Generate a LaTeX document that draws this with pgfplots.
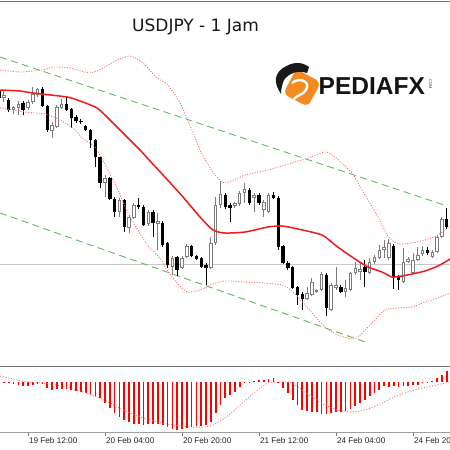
\documentclass[border=0pt]{standalone}
\usepackage{pgfplots}
\pgfplotsset{compat=1.18}
\usepackage{pgfplotstable}
\usepackage{fontspec}
\setmainfont{Liberation Sans}
\newfontfamily\titlefont{DejaVu Sans}
\definecolor{bandred}{RGB}{255,105,105}
\definecolor{midred}{RGB}{245,25,25}
\definecolor{chgreen}{RGB}{95,185,95}
\definecolor{bullgray}{RGB}{125,125,125}
\definecolor{logoorange}{RGB}{245,138,32}
\definecolor{sepgray}{RGB}{115,115,115}

% bearish candles (image-pixel price scale, y grows downward)
\pgfplotstableread{
k hi bt bb lo
-6 88 90 98 100
-4 98 100 110 112
-1 101 103 110 115
3 87 89 106 107
4 105 106 130 132
8 96 104 110 111
9 108 109 118 128
10 115 117 121 123
11 119 121 122 124
12 125 126 130 131
13 129 130 140 148
14 139 140 157 167
15 156 157 183 188
17 177 178 199 200
18 197 199 212 217
20 199 200 227 232
23 198 205 207 209
24 205 207 225 226
26 210 212 223 237
28 221 223 245 247
29 242 243 265 268
31 256 257 270 276
34 245 246 256 257
35 255 256 259 260
36 257 258 267 268
37 263 265 268 285
41 193 195 207 209
42 203 205 208 222
46 188 190 203 205
48 193 195 203 205
51 192 195 198 199
52 196 198 247 250
53 245 246 263 264
54 261 263 268 270
55 266 267 288 289
56 286 287 295 305
57 292 294 299 310
62 273 275 308 316
65 285 287 292 293
70 260 267 272 287
76 244 246 278 289
77 275 277 280 290
83 247 250 253 255
87 208 219 227 229
}\tabBear

% bullish candles
\pgfplotstableread{
k hi bt bb lo
-5 91 95 98 102
-3 106 107 110 114
-2 101 104 108 115
0 100 102 108 110
1 87 94 102 104
2 88 89 95 97
5 122 125 131 138
6 105 107 127 128
7 99 104 108 109
16 175 178 183 197
19 198 200 212 217
21 215 217 228 233
22 203 205 218 219
25 210 212 224 226
27 213 221 224 250
30 256 258 267 275
32 256 258 268 269
33 244 246 257 258
38 237 243 268 269
39 197 205 243 245
40 181 194 205 208
43 202 203 206 208
44 191 193 204 206
45 183 189 193 203
47 193 195 198 212
49 200 202 210 217
50 193 195 212 213
58 287 293 299 300
59 278 282 295 296
60 289 290 292 293
61 272 274 290 291
63 283 285 310 311
64 267 285 288 290
66 280 288 292 297
67 272 273 290 291
68 262 268 273 275
69 262 269 272 280
71 258 262 273 274
72 255 257 262 264
73 245 250 258 259
74 240 247 250 258
75 239 243 258 260
78 248 262 282 283
79 257 259 262 263
80 253 260 273 274
81 247 255 260 261
82 246 250 254 256
84 250 252 257 258
85 235 237 252 253
86 217 219 237 238
}\tabBull

\pgfplotstableread{
px py
0 70
20 72
43 70
53 67
70 68
90 73
103 68
117 60
130 56
143 63
157 78
167 84
180 103
192 130
200 150
207 163
215 175
225 183
245 175
268 170
292 163
308 158
325 152
335 157
352 173
358 183
368 200
378 217
388 236
398 244
412 243
425 240
438 235
450 226
}\tabUpper

\pgfplotstableread{
px py
0 90
20 91
33 93
67 97
80 101
97 108
110 120
127 137
140 150
150 161
163 175
183 197
200 217
213 230
225 233
245 232
268 227
282 226
298 229
322 235
335 245
352 257
368 267
382 272
392 277
402 276
412 274
425 271
438 266
450 259
}\tabMid

\pgfplotstableread{
px py
0 108
25 112
45 114
60 120
75 130
83 139
95 147
108 170
118 190
128 213
142 237
150 248
160 258
167 270
177 283
187 292
200 290
213 284
225 281
245 282
265 283
285 286
298 297
312 313
325 327
338 335
352 339
358 337
372 323
385 310
398 308
412 307
425 302
438 298
450 293
}\tabLow

\pgfplotstableread{
k v
-5 -1
-4 -1
-3 -2
-2 -3
-1 -4
0 -4
1 -3
2 -2
3 -2
4 -6
5 -8
6 -7
7 -7
8 -7
9 -8
10 -9
11 -10
12 -11
13 -12
14 -14
15 -16
16 -21
17 -26
18 -31
19 -35
20 -38
21 -40
22 -42
23 -42
24 -43
25 -42
26 -42
27 -42
28 -43
29 -45
30 -47
31 -48
32 -47
33 -46
34 -45
35 -44
36 -44
37 -43
38 -40
39 -31
40 -23
41 -16
42 -13
43 -10
44 -5
45 -1
46 -0.5
47 1
48 2
49 2
50 3
51 4
52 -1
53 -6
54 -11
55 -18
56 -23
57 -28
58 -29
59 -30
60 -30
61 -32
62 -32
63 -31
64 -30
65 -30
66 -29
67 -27
68 -24
69 -21
70 -18
71 -14
72 -11
73 -8
74 -4
75 -5
76 -4
77 -5
78 -4
79 -4
80 -3
81 -3
82 -1
83 -0.5
84 1
85 4
86 7
87 11
}\tabMacd

\pgfplotstableread{
px v
0 6
13 3
27 0
43 -1
67 -5
83 -10
97 -15
110 -21
123 -28
140 -35
157 -40
173 -43
190 -45
203 -45
213 -43
225 -36
238 -25
255 -10
268 -1
280 0
292 -1
312 -15
325 -23
338 -28
352 -30
365 -28
378 -23
392 -16
405 -11
418 -7
432 -4
445 -1
450 0
}\tabSignal

\pgfplotsset{
  candle/.style 2 args={draw=none, mark=none, forget plot,
    error bars/.cd, y dir=plus, y explicit, error mark=none,
    error bar style={solid, draw=#1, line width=#2}},
}

\begin{document}
\begin{tikzpicture}
\useasboundingbox (0pt,0pt) rectangle (450pt,450pt);
\clip (0pt,0pt) rectangle (450pt,450pt);
\fill[white] (0pt,0pt) rectangle (450pt,450pt);

% ---------------- main price panel
\begin{axis}[
  at={(0pt,85pt)}, anchor=south west, scale only axis,
  width=450pt, height=363pt,
  xmin=0, xmax=450, ymin=2, ymax=365, y dir=reverse,
  hide axis, clip=true]
% horizontal price level
\addplot[black!22, line width=0.8pt] coordinates {(0,264) (450,264)};
% trend channel
\addplot[chgreen, line width=0.9pt, dash pattern=on 7pt off 4.5pt] coordinates {(0,57) (447,206)};
\addplot[chgreen, line width=0.9pt, dash pattern=on 7pt off 4.5pt] coordinates {(0,213) (368,343)};
% wicks
\addplot[candle={bullgray}{1pt}]
  table[x expr=28+4.8125*\thisrow{k}, y=hi, y error plus expr=\thisrow{lo}-\thisrow{hi}] \tabBull;
\addplot[candle={black}{1pt}]
  table[x expr=28+4.8125*\thisrow{k}, y=hi, y error plus expr=\thisrow{lo}-\thisrow{hi}] \tabBear;
% bodies
\addplot[candle={bullgray}{3.4pt}]
  table[x expr=28+4.8125*\thisrow{k}, y=bt, y error plus expr=\thisrow{bb}-\thisrow{bt}] \tabBull;
\addplot[candle={white}{1.4pt}]
  table[x expr=28+4.8125*\thisrow{k}, y expr=\thisrow{bt}+1, y error plus expr=\thisrow{bb}-\thisrow{bt}-2] \tabBull;
\addplot[candle={black}{3.4pt}]
  table[x expr=28+4.8125*\thisrow{k}, y=bt, y error plus expr=\thisrow{bb}-\thisrow{bt}] \tabBear;
% Bollinger bands
\addplot[bandred, line width=0.9pt, dash pattern=on 1pt off 1.6pt, smooth, tension=0.4] table[x=px, y=py] \tabUpper;
\addplot[bandred, line width=0.9pt, dash pattern=on 1pt off 1.6pt, smooth, tension=0.4] table[x=px, y=py] \tabLow;
\addplot[midred, line width=1.5pt, smooth, tension=0.4] table[x=px, y=py] \tabMid;
\end{axis}

% ---------------- oscillator panel
\begin{axis}[
  at={(0pt,18pt)}, anchor=south west, scale only axis,
  width=450pt, height=65pt,
  xmin=0, xmax=450, ymin=-50, ymax=15,
  hide axis, clip=true]
\addplot[ycomb, red, line width=1.7pt] table[x expr=28+4.8125*\thisrow{k}, y=v] \tabMacd;
\addplot[bandred, line width=0.9pt, dash pattern=on 1pt off 1.8pt, smooth, tension=0.4] table[x=px, y=v] \tabSignal;
\end{axis}

% frame lines
\draw[sepgray, line width=1pt] (0pt,448.5pt) -- (450pt,448.5pt);
\draw[sepgray, line width=1.8pt] (0pt,83.5pt) -- (450pt,83.5pt);
\draw[black!38, line width=0.8pt] (0pt,17.3pt) -- (450pt,17.3pt);
\foreach \t/\lab in {28/19 Feb 12:00, 105/20 Feb 04:00, 182/20 Feb 20:00, 259/21 Feb 12:00, 336/24 Feb 04:00, 413/24 Feb 20:00}{
  \draw[black!55, line width=0.8pt] (\t pt,17.3pt) -- (\t pt,14pt);
  \node[anchor=base west, inner sep=0pt, text=black!85, font=\fontsize{8.2}{9}\selectfont] at (\t pt+0.8pt,6pt) {\lab};
}

% title
\node[anchor=base west, inner sep=0pt, font=\titlefont\fontsize{17}{20}\selectfont, text=black!90] at (132pt,418pt) {USDJPY - 1 Jam};

% logo
\begin{scope}
\fill[logoorange, rounded corners=6pt, rotate around={-28:(302pt,362pt)}] (288pt,348pt) rectangle (316pt,376pt);
\draw[white, line width=2.4pt] (292pt,367pt) .. controls (299pt,373pt) and (311pt,369pt) .. (306pt,360pt) .. controls (303pt,355pt) and (297pt,355pt) .. (294pt,351pt);
\fill[black!90] (283pt,382pt) .. controls (292pt,388pt) and (301pt,389pt) .. (309pt,383pt)
  -- (307pt,377pt) .. controls (298pt,380pt) and (289pt,377pt) .. (284pt,370pt)
  .. controls (282pt,365pt) and (281pt,361pt) .. (281pt,356pt)
  .. controls (277pt,362pt) and (275pt,368pt) .. (276pt,372pt)
  .. controls (277pt,377pt) and (280pt,380pt) .. (283pt,382pt) -- cycle;
\end{scope}
\node[anchor=base west, inner sep=0pt, font=\bfseries\fontsize{24.5}{28}\selectfont, text=black!92] at (318.5pt,355pt) {PEDIAFX};
\node[anchor=base west, inner sep=0pt, rotate=-90, font=\fontsize{4}{4}\selectfont, text=black!80] at (429pt,372pt) {.COM};
\end{tikzpicture}
\end{document}
